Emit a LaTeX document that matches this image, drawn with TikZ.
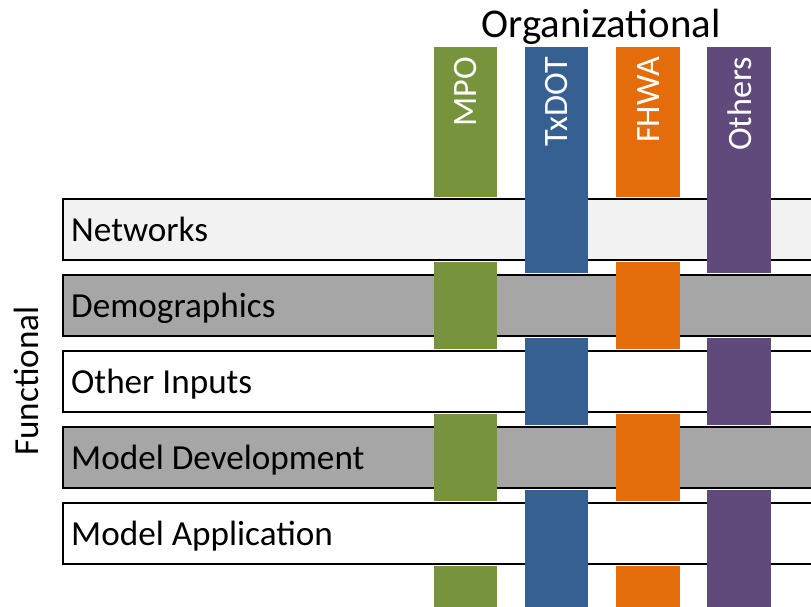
\documentclass[tikz,border=0pt]{standalone}
\usepackage{fontspec}
\setmainfont{Carlito}
\definecolor{mpogreen}{HTML}{77933C}
\definecolor{txdotblue}{HTML}{366092}
\definecolor{fhwaorange}{HTML}{E46C0A}
\definecolor{otherspurple}{HTML}{604A7B}
\definecolor{lightrow}{HTML}{F2F2F2}
\definecolor{darkrow}{HTML}{A6A6A6}
\tikzset{
	halo/.style={draw=white, line width=4.5pt},
	rowbar/.style={draw=black, line width=1.8pt},
	rowlabel/.style={anchor=base west, inner sep=0pt, font=\fontsize{35.3}{42}\selectfont},
	collabel/.style={rotate=90, anchor=east, inner sep=0pt, text=white, font=\fontsize{34.3}{41}\selectfont},
}

\begin{document}
\begin{tikzpicture}[x=1bp, y=-1bp]
			%%%%% START %%%%%
			\useasboundingbox (0, 0) rectangle (811, 607);
			\clip (0, 0) rectangle (811, 607);
			
			% columns, full length
			\fill[mpogreen] (434, 47) rectangle (497, 620);
			\fill[txdotblue] (525, 47) rectangle (588, 620);
			\fill[fhwaorange] (616, 47) rectangle (680, 620);
			\fill[otherspurple] (707, 47) rectangle (771, 620);
			
			% rows
			\draw[halo] (63, 199) rectangle (830, 260);
			\draw[rowbar, fill=lightrow] (63, 199) rectangle (830, 260);
			\draw[halo] (63, 275) rectangle (830, 336);
			\draw[rowbar, fill=darkrow] (63, 275) rectangle (830, 336);
			\draw[halo] (63, 351) rectangle (830, 412);
			\draw[rowbar, fill=white] (63, 351) rectangle (830, 412);
			\draw[halo] (63, 427) rectangle (830, 488);
			\draw[rowbar, fill=darkrow] (63, 427) rectangle (830, 488);
			\draw[halo] (63, 503) rectangle (830, 564);
			\draw[rowbar, fill=white] (63, 503) rectangle (830, 564);
			
			% columns passing over the rows
			\fill[txdotblue] (525, 196) rectangle (588, 263);
			\fill[otherspurple] (707, 196) rectangle (771, 263);
			
			\fill[mpogreen] (434, 272) rectangle (497, 339);
			\fill[fhwaorange] (616, 272) rectangle (680, 339);
			
			\fill[txdotblue] (525, 348) rectangle (588, 415);
			\fill[otherspurple] (707, 348) rectangle (771, 415);
			
			\fill[mpogreen] (434, 424) rectangle (497, 491);
			\fill[fhwaorange] (616, 424) rectangle (680, 491);
			
			\fill[txdotblue] (525, 500) rectangle (588, 567);
			\fill[otherspurple] (707, 500) rectangle (771, 567);
			
			% labels
			\node[rowlabel] (networks) at (71, 241.5) {Networks};
			\node[rowlabel] (demographics) at (71, 317.5) {Demographics};
			\node[rowlabel] (otherinputs) at (71, 393.5) {Other Inputs};
			\node[rowlabel] (modeldev) at (71, 469.5) {Model Development};
			\node[rowlabel] (modelapp) at (71, 545.5) {Model Application};
			
			\node[collabel] (mpo) at (466, 57) {MPO};
			\node[collabel] (txdot) at (557, 57) {TxDOT};
			\node[collabel] (fhwa) at (648.5, 57) {FHWA};
			\node[collabel] (others) at (739.5, 57) {Others};
			
			\node[anchor=base, inner sep=0pt, font=\fontsize{41}{48}\selectfont] (organizational) at (601, 38) {Organizational};
			\node[rotate=90, anchor=base, inner sep=0pt, font=\fontsize{35.3}{42}\selectfont] (functional) at (38, 381) {Functional};
			
			%%%%% END %%%%%
		\end{tikzpicture}
\end{document}
